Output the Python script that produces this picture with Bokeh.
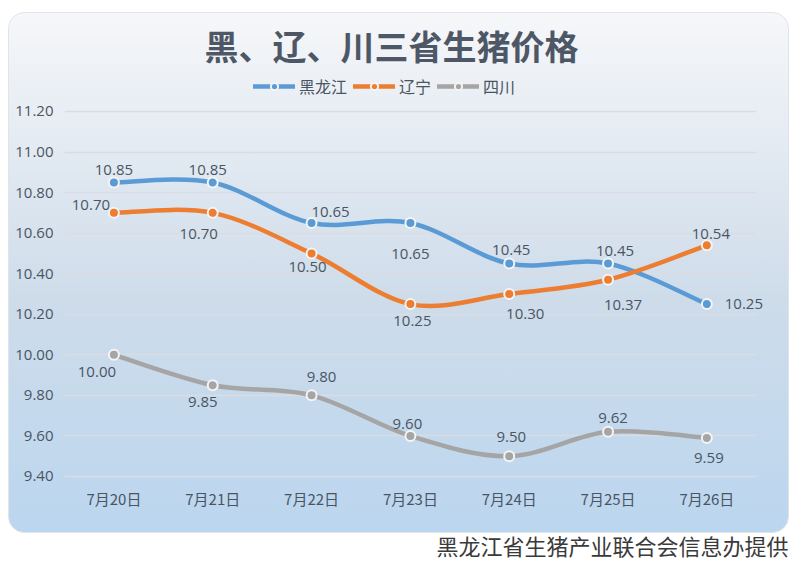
import numpy as np
from urllib.parse import quote
from bokeh.plotting import figure
from bokeh.models import (ColumnDataSource, Range1d, FixedTicker, Legend, LegendItem,
                          Title, NumeralTickFormatter, LabelSet)
from bokeh.core.properties import value
from bokeh.embed import file_html
from bokeh.resources import INLINE

# ---------------- data ----------------
dates = ["7月20日", "7月21日", "7月22日", "7月23日", "7月24日", "7月25日", "7月26日"]
heilongjiang = [10.85, 10.85, 10.65, 10.65, 10.45, 10.45, 10.25]
liaoning = [10.70, 10.70, 10.50, 10.25, 10.30, 10.37, 10.54]
sichuan = [10.00, 9.85, 9.80, 9.60, 9.50, 9.62, 9.59]
series_names = ["黑龙江", "辽宁", "四川"]
y_ticks = [9.4, 9.6, 9.8, 10.0, 10.2, 10.4, 10.6, 10.8, 11.0, 11.2]

# data-label placement (screen px: dx to the right, dy downward)
hlj_dx = [0, -5, 19, 0, 2, 7, 37]
hlj_dy = [-12, -12, -11, 31, -14, -13, 0]
ln_dx = [-23, -14, -4, 2, 16, 15, 4]
ln_dy = [-8, 21, 14, 17, 20, 25, -11]
sc_dx = [-17, -10, 10, -3, 2, 5, 2]
sc_dy = [17, 17, -18, -12, -19, -14, 20]

colors = ["#5b9bd5", "#ed7d31", "#a5a5a5"]
text_color = "#4a5563"

# ---------------- figure ----------------
p = figure(width=800, height=576, output_backend="svg", toolbar_location=None,
           x_range=Range1d(-0.5, 6.664), y_range=Range1d(9.39, 11.412),
           min_border_left=64, min_border_right=28, min_border_top=68, min_border_bottom=98,
           title="黑、辽、川三省生猪价格")
p.border_fill_alpha = 0
p.background_fill_alpha = 0
p.outline_line_color = None

bg_svg = ('<svg xmlns="http://www.w3.org/2000/svg" width="800" height="576">'
          '<defs><linearGradient id="g" x1="0" y1="0" x2="0" y2="1">'
          '<stop offset="0" stop-color="#f6f7f9"/>'
          '<stop offset="0.55" stop-color="#cedcea"/>'
          '<stop offset="1" stop-color="#bbd6ef"/>'
          '</linearGradient></defs>'
          '<rect x="8.5" y="12.5" width="780" height="520" rx="16" ry="16" '
          'fill="url(#g)" stroke="#dfe4ea" stroke-width="1"/></svg>')
p.styles = {"background": '#ffffff url("data:image/svg+xml,' + quote(bg_svg) + '") no-repeat'}

# title
p.title.text_font = "Noto Sans CJK SC"
p.title.text_font_size = "34px"
p.title.text_font_style = "bold"
p.title.text_color = "#4d5765"
p.title.align = "left"
p.title.offset = 140
p.title.standoff = -2

# axes
p.xaxis.ticker = FixedTicker(ticks=list(range(len(dates))))
p.xaxis.major_label_overrides = {i: d for i, d in enumerate(dates)}
p.yaxis.ticker = FixedTicker(ticks=y_ticks)
p.yaxis.formatter = NumeralTickFormatter(format="0.00")
for ax in (p.xaxis[0], p.yaxis[0]):
    ax.axis_line_color = None
    ax.major_tick_line_color = None
    ax.minor_tick_line_color = None
    ax.major_tick_out = 0
    ax.major_tick_in = 0
    ax.minor_tick_out = 0
    ax.major_label_text_color = text_color
    ax.major_label_text_font_size = "15px"
p.xaxis.major_label_text_font = "Noto Sans CJK SC"
p.yaxis.major_label_text_font = "Open Sans"
p.xaxis.major_label_standoff = 9
p.yaxis.major_label_standoff = 11
p.xgrid.visible = False
p.ygrid.grid_line_color = "#d9dde3"
p.ygrid.grid_line_width = 1.5
p.ygrid.cross_bounds = (-0.5, 6.5)


def smooth_source(vals):
    n = len(vals)
    x = np.arange(n, dtype=float)
    y = np.asarray(vals, dtype=float)
    xp = np.concatenate([[x[0]], x, [x[-1]]])
    yp = np.concatenate([[y[0]], y, [y[-1]]])
    t = 1.0 / 6.0
    return ColumnDataSource(dict(
        x0=x[:-1], y0=y[:-1], x1=x[1:], y1=y[1:],
        cx0=xp[1:n] + (xp[2:n + 1] - xp[0:n - 1]) * t,
        cy0=yp[1:n] + (yp[2:n + 1] - yp[0:n - 1]) * t,
        cx1=xp[2:n + 1] - (xp[3:n + 2] - xp[1:n]) * t,
        cy1=yp[2:n + 1] - (yp[3:n + 2] - yp[1:n]) * t,
    ))


items = []
for vals, dx, dy, col, name in zip([heilongjiang, liaoning, sichuan],
                                   [hlj_dx, ln_dx, sc_dx], [hlj_dy, ln_dy, sc_dy],
                                   colors, series_names):
    src = ColumnDataSource(dict(x=list(range(len(vals))), y=vals,
                                label=[f"{v:.2f}" for v in vals],
                                dx=dx, dy_up=[-d for d in dy]))
    bz = p.bezier(x0="x0", y0="y0", x1="x1", y1="y1", cx0="cx0", cy0="cy0",
                  cx1="cx1", cy1="cy1", source=smooth_source(vals),
                  line_color=col, line_width=4.5, line_cap="round")
    sc = p.scatter(x="x", y="y", source=src, size=10, fill_color=col,
                   line_color="#f4f4f4", line_width=2)
    labels = LabelSet(x="x", y="y", text="label", x_offset="dx", y_offset="dy_up",
                      source=src, text_align="center", text_baseline="middle",
                      text_font=value("Open Sans"), text_font_size="15px",
                      text_color=text_color)
    p.add_layout(labels)
    items.append(LegendItem(label=name, renderers=[bz, sc]))

legend = Legend(items=items, orientation="horizontal", location=(189, 380),
                padding=0, margin=0, spacing=6, label_standoff=4,
                glyph_width=42, glyph_height=18, label_height=18,
                label_text_font="Noto Sans CJK SC", label_text_font_size="16px",
                label_text_color=text_color, background_fill_alpha=0,
                border_line_color=None)
p.add_layout(legend, "center")

caption = Title(text="黑龙江省生猪产业联合会信息办提供", align="left", offset=372,
                text_font="Noto Sans CJK SC", text_font_size="22px",
                text_font_style="normal", text_color="#3a3a3a", standoff=31)
p.add_layout(caption, "below")

open("out.html", "w").write(file_html(p, INLINE))
